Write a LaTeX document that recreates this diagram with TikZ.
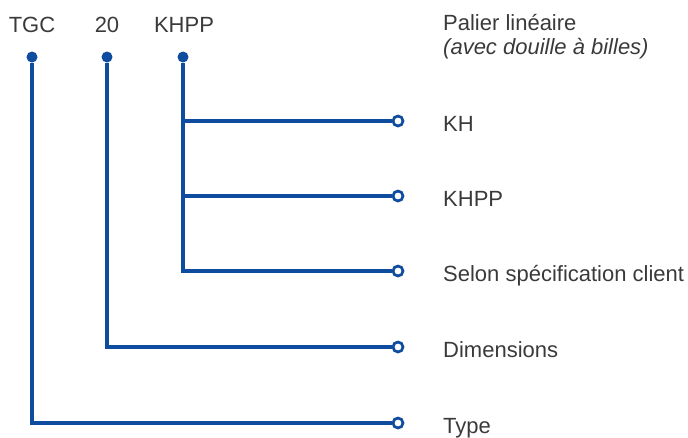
\documentclass[tikz,border=0pt]{standalone}
\usepackage{fontspec}
\setmainfont{Liberation Sans}
\usetikzlibrary{positioning, calc}
\definecolor{lineblue}{HTML}{0D4C9E}
\definecolor{txtgray}{HTML}{3A3A3A}

\begin{document}
\begin{tikzpicture}[
  x=1pt, y=-1pt,
  code/.style={font=\fontsize{22}{26}\selectfont, text=txtgray, anchor=base, inner sep=0pt},
  lbl/.style={font=\fontsize{22}{26}\selectfont, text=txtgray, anchor=base west, inner sep=0pt},
  dot/.style={circle, fill=lineblue, inner sep=0pt, minimum size=11pt},
  endpt/.style={circle, draw=lineblue, line width=2.7pt, fill=white, inner sep=0pt, minimum size=10pt},
  ln/.style={lineblue, line width=3.2pt},
]
  \useasboundingbox (0,0) rectangle (688,437);
  % codes on top
  \node[code] (tgc) at (32,32) {TGC};
  \node[code] (size) at (107,32) {20};
  \node[code] (khpp) at (184,32) {KHPP};
  \node[dot] (tgc-dot) at (32,57) {};
  \node[dot] (size-dot) at (107,57) {};
  \node[dot] (khpp-dot) at (183,57) {};
  % open ends
  \node[endpt] (e-kh) at (398,121) {};
  \node[endpt] (e-khpp) at (398,196) {};
  \node[endpt] (e-sel) at (398,271) {};
  \node[endpt] (e-dim) at (398,347) {};
  \node[endpt] (e-type) at (398,423) {};
  % labels
  \node[lbl] (title) at (443,30) {Palier linéaire};
  \node[lbl] (sub) at (443,54) {\itshape (avec douille à billes)};
  \node[lbl] (l-kh) at (443,131) {KH};
  \node[lbl] (l-khpp) at (443,206) {KHPP};
  \node[lbl] (l-sel) at (443,281) {Selon spécification client};
  \node[lbl] (l-dim) at (443,357) {Dimensions};
  \node[lbl] (l-type) at (443,433) {Type};
  % connectors
  \draw[ln] (tgc-dot) |- (e-type);
  \draw[ln] (size-dot) |- (e-dim);
  \draw[ln] (khpp-dot) |- (e-sel);
  \draw[ln] (khpp-dot |- e-kh) -- (e-kh);
  \draw[ln] (khpp-dot |- e-khpp) -- (e-khpp);
\end{tikzpicture}
\end{document}
